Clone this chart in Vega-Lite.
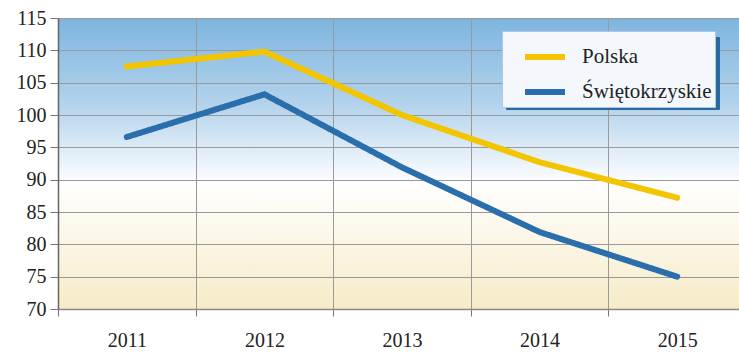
{
  "$schema": "https://vega.github.io/schema/vega-lite/v6.json",
  "width": 681,
  "height": 291,
  "autosize": "none",
  "padding": {"left": 58, "top": 18, "right": 0, "bottom": 45},
  "background": "#ffffff",
  "config": {
    "axis": {"labelFont": "Liberation Serif", "labelFontSize": 20, "labelColor": "#222222"},
    "legend": {"labelFont": "Liberation Serif"},
    "view": {
      "stroke": null,
      "fill": {
        "gradient": "linear",
        "x1": 0, "y1": 0, "x2": 0, "y2": 1,
        "stops": [
          {"offset": 0, "color": "#7db5df"},
          {"offset": 0.3, "color": "#b4d3ec"},
          {"offset": 0.57, "color": "#ffffff"},
          {"offset": 1, "color": "#f6ebc8"}
        ]
      }
    }
  },
  "data": {
    "values": [
      {"year": 2011, "series": "Polska", "value": 107.5},
      {"year": 2012, "series": "Polska", "value": 109.8},
      {"year": 2013, "series": "Polska", "value": 100.0},
      {"year": 2014, "series": "Polska", "value": 92.7},
      {"year": 2015, "series": "Polska", "value": 87.2},
      {"year": 2011, "series": "Świętokrzyskie", "value": 96.6},
      {"year": 2012, "series": "Świętokrzyskie", "value": 103.2},
      {"year": 2013, "series": "Świętokrzyskie", "value": 91.9},
      {"year": 2014, "series": "Świętokrzyskie", "value": 81.9},
      {"year": 2015, "series": "Świętokrzyskie", "value": 75.0}
    ]
  },
  "mark": {"type": "line", "strokeWidth": 6, "strokeCap": "round", "strokeJoin": "round"},
  "encoding": {
    "x": {
      "field": "year",
      "type": "quantitative",
      "scale": {"domain": [2010.5, 2015.449], "nice": false, "zero": false},
      "axis": {
        "title": null,
        "values": [2010.5, 2011, 2011.5, 2012, 2012.5, 2013, 2013.5, 2014, 2014.5, 2015],
        "labelExpr": "datum.value % 1 == 0 ? toString(datum.value) : ''",
        "grid": true,
        "gridColor": "#9a9a9a",
        "gridWidth": 1,
        "gridOpacity": {"condition": {"test": "datum.value % 1 != 0", "value": 1}, "value": 0},
        "tickOpacity": {"condition": {"test": "datum.value % 1 != 0", "value": 1}, "value": 0},
        "tickColor": "#777777",
        "tickSize": 7,
        "domainColor": "#8a8a8a",
        "domainWidth": 1.5,
        "labelFont": "Liberation Serif",
        "labelFontSize": 20,
        "labelColor": "#222222",
        "labelPadding": 14,
        "labelFlush": false,
        "labelOverlap": false
      }
    },
    "y": {
      "field": "value",
      "type": "quantitative",
      "scale": {"domain": [70, 115], "nice": false, "zero": false},
      "axis": {
        "title": null,
        "values": [70, 75, 80, 85, 90, 95, 100, 105, 110, 115],
        "grid": true,
        "gridColor": "#9a9a9a",
        "gridWidth": 1,
        "tickColor": "#777777",
        "tickSize": 8,
        "domainColor": "#666666",
        "domainWidth": 1.5,
        "labelFont": "Liberation Serif",
        "labelFontSize": 20,
        "labelColor": "#222222",
        "labelPadding": 4,
        "labelFlush": false,
        "labelOverlap": false
      }
    },
    "color": {
      "field": "series",
      "type": "nominal",
      "scale": {"domain": ["Polska", "Świętokrzyskie"], "range": ["#f2c500", "#2a6fab"]},
      "legend": {
        "title": null,
        "orient": "none",
        "legendX": 444,
        "legendY": 13,
        "zindex": 2,
        "fillColor": "#f4f8fc",
        "strokeColor": "#a9c9e8",
        "padding": 3,
        "symbolOffset": 17,
        "symbolType": "stroke",
        "symbolSize": 1600,
        "symbolStrokeWidth": 6,
        "labelFont": "Liberation Serif",
        "labelFontSize": 21,
        "labelColor": "#222222",
        "labelOffset": 14,
        "rowPadding": -3,
        "labelLimit": 300
      }
    },
    "strokeDash": {
      "field": "series",
      "type": "nominal",
      "scale": {"domain": ["Świętokrzyskie", "Polska"], "range": [[1, 0], [1, 0]]},
      "legend": {
        "title": null,
        "orient": "none",
        "legendX": 448,
        "legendY": 19,
        "zindex": 1,
        "fillColor": "#2a68a0",
        "strokeColor": "#2a68a0",
        "padding": 3,
        "symbolOffset": 17,
        "symbolType": "stroke",
        "symbolSize": 1600,
        "symbolStrokeWidth": 6,
        "symbolOpacity": 0,
        "labelFont": "Liberation Serif",
        "labelFontSize": 21,
        "labelColor": "transparent",
        "labelOffset": 14,
        "rowPadding": -3,
        "labelLimit": 300
      }
    }
  }
}
